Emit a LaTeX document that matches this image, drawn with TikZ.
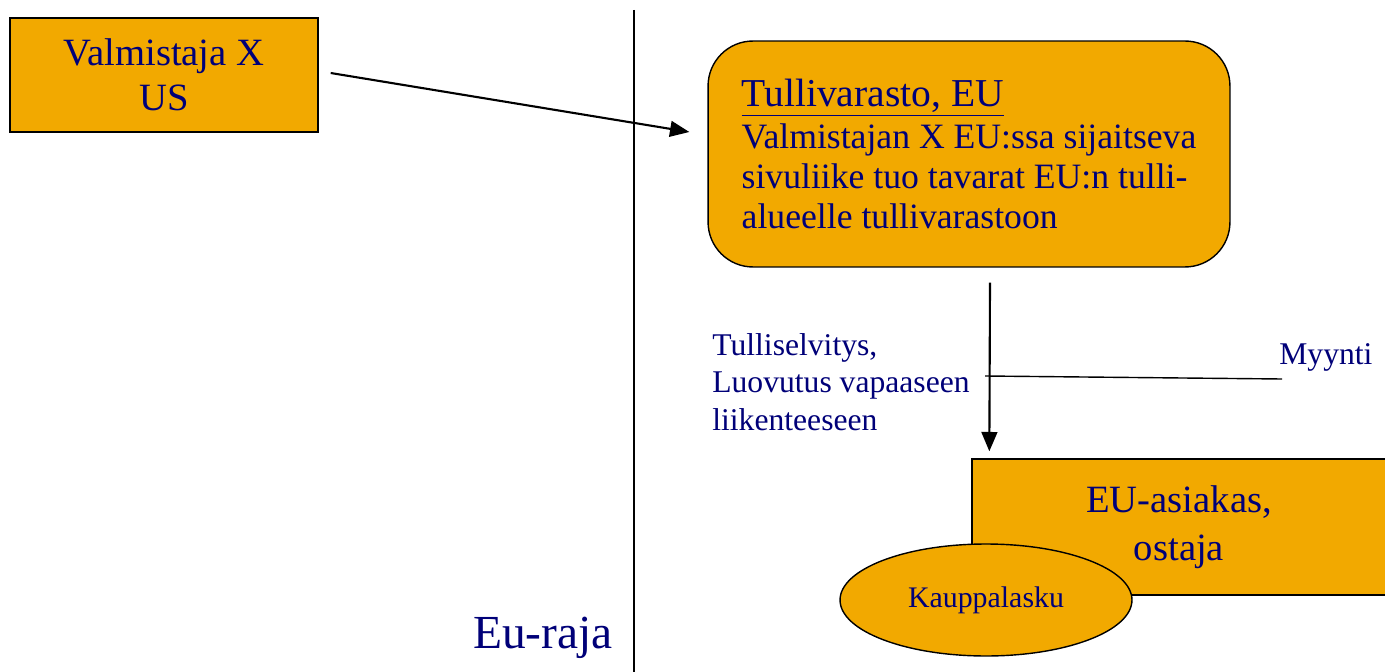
\documentclass[tikz,border=0pt]{standalone}
\usepackage{fontspec}
\setmainfont{Liberation Serif}
\usetikzlibrary{arrows.meta, positioning, shapes.geometric, calc}

\definecolor{boxorange}{RGB}{242,169,0}
\definecolor{textnavy}{RGB}{0,0,120}

\tikzset{
    box/.style={draw, line width=0.8pt, fill=boxorange, text=textnavy, inner sep=0pt},
    arrow/.style={-{Triangle[length=11pt, width=9pt]}, line width=1.2pt},
    lbl/.style={text=textnavy, inner sep=0pt, font=\fontsize{18}{21.3}\selectfont}
}

\begin{document}
\begin{tikzpicture}[x=0.02cm, y=-0.02cm]
    \useasboundingbox (0,0) rectangle (1385,672);
    \clip (0,0) rectangle (1385,672);

    % EU border
    \draw[line width=0.8pt] (634,10) -- (634,672);
    \node[text=textnavy, font=\fontsize{27}{30}\selectfont, anchor=base] (raja) at (543,648) {Eu-raja};

    % Manufacturer
    \node[box, minimum width=6.16cm, minimum height=2.28cm, align=center,
        font=\fontsize{22}{25.5}\selectfont] (valm) at (164,75) {Valmistaja X\\US};

    % Customs warehouse
    \node[box, rounded corners=0.9cm, minimum width=10.44cm, minimum height=4.52cm,
        align=left, font=\fontsize{20.3}{22.7}\selectfont]
        (tulli) at (969,154)
        {{\fontsize{22.5}{24}\selectfont\underline{Tullivarasto, EU}}\\[1pt]Valmistajan X EU:ssa sijaitseva\\sivuliike tuo tavarat EU:n tulli-\\alueelle tullivarastoon};

    % Customer and invoice
    \node[box, minimum width=8.28cm, minimum height=2.72cm, align=center,
        font=\fontsize{22}{27}\selectfont] (asiakas) at (1179,527) {EU-asiakas,\\ostaja};
    \node[box, ellipse, minimum width=5.84cm, minimum height=2.24cm,
        font=\fontsize{17}{20}\selectfont] (lasku) at (986,600) {Kauppalasku};

    % Labels
    \node[lbl, anchor=north west, align=left] (selvitys) at (712,333)
        {Tulliselvitys,\\Luovutus vapaaseen\\liikenteeseen};
    \node[lbl, anchor=base west] (myynti) at (1279,364) {Myynti};

    % Connectors
    \draw[arrow] ($(valm.east)+(12,-2)$) -- ($(tulli.west)+(-18,-22)$);
    \draw[arrow] ($(tulli.south)+(21,15)$) -- ($(asiakas.north west)+(18,-7)$);
    \coordinate (sale) at (985,376);
    \draw[line width=0.8pt] (sale) -- ($(myynti.base west)+(3,15)$);
\end{tikzpicture}
\end{document}
